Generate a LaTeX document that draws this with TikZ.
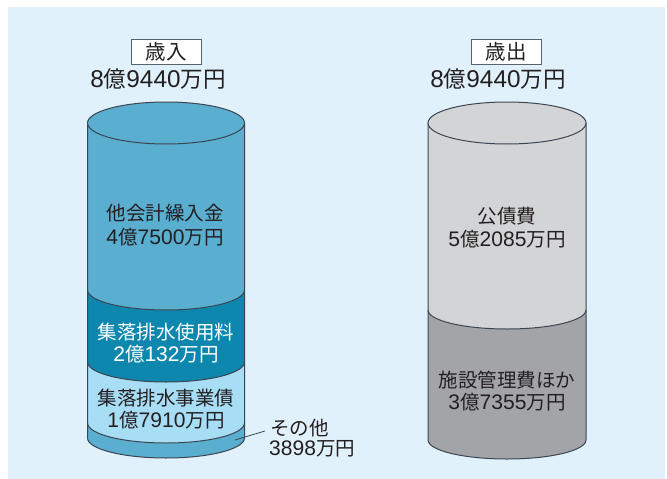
\documentclass[tikz,border=0pt]{standalone}
\usepackage{fontspec}
\setmainfont{Noto Sans CJK JP}
\newfontfamily\digfont[Scale=1.08]{Liberation Sans}
\newcommand\dgs[1]{{\digfont #1}}
\definecolor{bgblue}{HTML}{E0F1FB}
\definecolor{midblue}{HTML}{5AAECF}
\definecolor{darkblue}{HTML}{0E87AE}
\definecolor{lightblue}{HTML}{A8DDF6}
\definecolor{lightgray}{HTML}{D3D4D6}
\definecolor{midgray}{HTML}{A3A4A7}
\definecolor{edge}{HTML}{3B4650}
\definecolor{ink}{HTML}{231F20}
\tikzset{
  body/.style={font=\fontsize{19.5}{22}\selectfont, text=ink, inner sep=0pt},
  head/.style={font=\fontsize{22.5}{26}\selectfont, text=ink, inner sep=0pt},
  tag/.style={draw=edge!85, fill=white, line width=0.9pt, minimum width=70pt, minimum height=25pt, inner sep=0pt, font=\fontsize{20.5}{24}\selectfont, text=ink},
  outline/.style={draw=edge, line width=1pt},
}
\begin{document}
\begin{tikzpicture}[x=1pt,y=-1pt]
\useasboundingbox (0,0) rectangle (667,479);
\fill[white] (0,0) rectangle (667,479);
\fill[bgblue] (8,7) rectangle (665,479);
% ---------- left cylinder ----------
\fill[midblue] (87.5,423) -- (87.5,438) arc[start angle=180,end angle=0,x radius=78.5,y radius=20] -- (244.5,423) -- cycle;
\fill[lightblue] (87.5,362) -- (87.5,423) arc[start angle=180,end angle=0,x radius=78.5,y radius=20] -- (244.5,362) -- cycle;
\fill[darkblue] (87.5,290) -- (87.5,362) arc[start angle=180,end angle=0,x radius=78.5,y radius=20] -- (244.5,290) -- cycle;
\fill[midblue] (87.5,123) -- (87.5,290) arc[start angle=180,end angle=0,x radius=78.5,y radius=20] -- (244.5,123) -- cycle;
\draw[outline] (87.5,290) arc[start angle=180,end angle=0,x radius=78.5,y radius=20];
\draw[outline] (87.5,362) arc[start angle=180,end angle=0,x radius=78.5,y radius=20];
\draw[outline] (87.5,423) arc[start angle=180,end angle=0,x radius=78.5,y radius=20];
\draw[outline] (87.5,123) -- (87.5,438) arc[start angle=180,end angle=0,x radius=78.5,y radius=20] -- (244.5,123);
\draw[outline, fill=midblue] (166,123) ellipse[x radius=78.5, y radius=21];
% ---------- right cylinder ----------
\fill[midgray] (428,310) -- (428,440) arc[start angle=180,end angle=0,x radius=79,y radius=19] -- (586,310) -- cycle;
\fill[lightgray] (428,123) -- (428,310) arc[start angle=180,end angle=0,x radius=79,y radius=19] -- (586,123) -- cycle;
\draw[outline] (428,310) arc[start angle=180,end angle=0,x radius=79,y radius=19];
\draw[outline] (428,123) -- (428,440) arc[start angle=180,end angle=0,x radius=79,y radius=19] -- (586,123);
\draw[outline, fill=lightgray] (507,123) ellipse[x radius=79, y radius=21];
% ---------- headers ----------
\node[tag] (intag) at (166,51.5) {歳入};
\node[head] (intotal) at (158,79) {\dgs{8}億\dgs{9440}万円};
\node[tag] (outtag) at (506,51.5) {歳出};
\node[head] (outtotal) at (498,79) {\dgs{8}億\dgs{9440}万円};
% ---------- left labels ----------
\node[body] (a1) at (165,213) {他会計繰入金};
\node[body] (a2) at (165,237) {\dgs{4}億\dgs{7500}万円};
\node[body, text=white] (b1) at (166,332) {集落排水使用料};
\node[body, text=white] (b2) at (166,354) {\dgs{2}億\dgs{132}万円};
\node[body] (c1) at (166,398) {集落排水事業債};
\node[body] (c2) at (166,420) {\dgs{1}億\dgs{7910}万円};
\node[body, anchor=west] (sonota) at (270,428) {その他};
\node[body, anchor=west] (sonotaval) at (269,449) {\dgs{3898}万円};
\coordinate (lead) at (235,440);
\draw[edge, line width=0.8pt] (lead) -- ([xshift=-5pt,yshift=-3pt]sonota.west);
% ---------- right labels ----------
\node[body] (d1) at (507,216) {公債費};
\node[body] (d2) at (507,239) {\dgs{5}億\dgs{2085}万円};
\node[body] (e1) at (507,380) {施設管理費ほか};
\node[body] (e2) at (507,402) {\dgs{3}億\dgs{7355}万円};
\end{tikzpicture}
\end{document}
